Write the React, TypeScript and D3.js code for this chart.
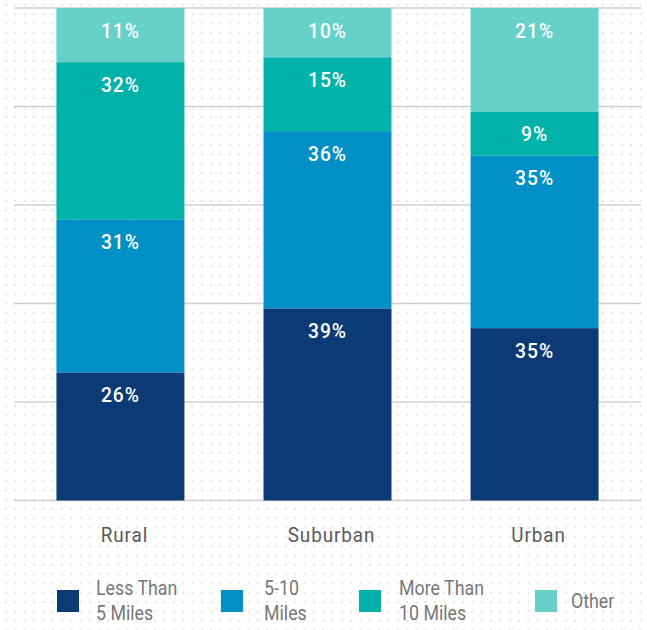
import React from "react";
import * as d3 from "d3";

const categories = ["Rural", "Suburban", "Urban"];
const seriesNames = ["Less Than 5 Miles", "5-10 Miles", "More Than 10 Miles", "Other"];
const legendLines = [["Less Than", "5 Miles"], ["5-10", "Miles"], ["More Than", "10 Miles"], ["Other"]];
const lessThan5 = [26, 39, 35];
const fiveTo10 = [31, 36, 35];
const moreThan10 = [32, 15, 9];
const other = [11, 10, 21];
const gridTicks = [0, 20, 40, 60, 80, 100];

const colors = ["#0b3a75", "#0090c5", "#00b2a9", "#67d1c9"];

const W = 647;
const H = 630;
const FONT = "Roboto, 'Noto Sans', sans-serif";

// Text drawn with a slight horizontal squeeze for a condensed look
function Narrow({ x, y, sx = 0.89, anchor = "start", children, ...rest }: any) {
  return (
    <g transform={`translate(${x},${y}) scale(${sx},1)`}>
      <text x={0} y={0} textAnchor={anchor} fontFamily={FONT} {...rest}>
        {children}
      </text>
    </g>
  );
}

export default function App() {
  const x = d3.scaleBand<string>().domain(categories).range([14, 641]).paddingInner(0.382).paddingOuter(0.205);
  const y = d3.scaleLinear().domain([0, 100]).range([500.5, 8]);

  const rows = categories.map((c, i) => ({
    cat: c,
    [seriesNames[0]]: lessThan5[i],
    [seriesNames[1]]: fiveTo10[i],
    [seriesNames[2]]: moreThan10[i],
    [seriesNames[3]]: other[i],
  }));
  const stacked = d3.stack<any>().keys(seriesNames)(rows);

  const legendX = [57, 221, 359, 535];
  const legendTextX = [96, 264, 399, 571];

  return (
    <svg width={W} height={H} style={{ position: "absolute", left: 0, top: 0, background: "#fff" }}>
      <defs>
        <pattern id="dots" width={9.33} height={9.33} patternUnits="userSpaceOnUse" x={5} y={4}>
          <rect x={0} y={0} width={2} height={2} fill="#e2e2e2" />
        </pattern>
      </defs>
      <rect x={0} y={0} width={W} height={H} fill="url(#dots)" />

      {gridTicks.map((t) => (
        <line key={t} x1={14} x2={641} y1={y(t)} y2={y(t)} stroke="#cfcfcf" strokeWidth={1.5} />
      ))}

      {stacked.map((s, si) =>
        s.map((d, ci) => {
          const bx = x(categories[ci])!;
          const top = y(d[1]);
          const bottom = y(d[0]);
          const v = d[1] - d[0];
          return (
            <g key={`${si}-${ci}`}>
              <rect x={bx} y={top} width={x.bandwidth()} height={bottom - top} fill={colors[si]} />
              <Narrow
                x={bx + x.bandwidth() / 2}
                y={top + 29.5}
                sx={0.92}
                anchor="middle"
                fill="#fff"
                fontWeight={500}
                fontSize={21}
                letterSpacing={1}
              >
                {v}%
              </Narrow>
            </g>
          );
        })
      )}

      {categories.map((c) => (
        <Narrow
          key={c}
          x={x(c)! + x.bandwidth() / 2 + 4}
          y={542}
          sx={0.9}
          anchor="middle"
          fill="#5a5a5a"
          fontSize={21}
          letterSpacing={1}
        >
          {c}
        </Narrow>
      ))}

      {seriesNames.map((n, i) => (
        <g key={n}>
          <rect x={legendX[i]} y={590} width={22} height={22} fill={colors[i]} />
          {legendLines[i].length === 2 ? (
            <g>
              <Narrow x={legendTextX[i]} y={595} fill="#777" fontSize={20}>
                {legendLines[i][0]}
              </Narrow>
              <Narrow x={legendTextX[i]} y={620} fill="#777" fontSize={20}>
                {legendLines[i][1]}
              </Narrow>
            </g>
          ) : (
            <Narrow x={legendTextX[i]} y={608} fill="#777" fontSize={20}>
              {legendLines[i][0]}
            </Narrow>
          )}
        </g>
      ))}
    </svg>
  );
}
